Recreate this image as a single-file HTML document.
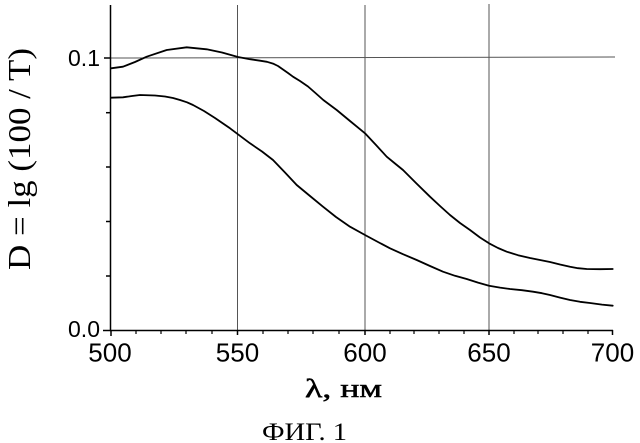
<!DOCTYPE html>
<html><head><meta charset="utf-8"><style>
html,body{margin:0;padding:0;background:#fff;}
svg{display:block;}
</style></head><body>
<svg width="640" height="443" viewBox="0 0 640 443" xmlns="http://www.w3.org/2000/svg">
<rect width="640" height="443" fill="#fff"/>
<!-- grid -->
<g stroke="#555" stroke-width="1" fill="none">
<line x1="237.5" y1="5" x2="237.5" y2="330"/>
<line x1="365" y1="5" x2="365" y2="330"/>
<line x1="489" y1="4" x2="489" y2="330"/>
<line x1="110" y1="58" x2="615" y2="57"/>
</g>
<!-- axes -->
<g stroke="#000" stroke-width="1.5" fill="none">
<line x1="110.5" y1="5" x2="110.5" y2="331"/>
<line x1="110" y1="330.5" x2="613" y2="330.5"/>
<line x1="104" y1="58" x2="110.5" y2="58"/>
<line x1="103" y1="330.5" x2="110.5" y2="330.5"/>
<line x1="106" y1="112.7" x2="110.5" y2="112.7"/>
<line x1="106" y1="167" x2="110.5" y2="167"/>
<line x1="106" y1="221.5" x2="110.5" y2="221.5"/>
<line x1="106" y1="276" x2="110.5" y2="276"/>
<line x1="111" y1="330" x2="111" y2="336"/>
<line x1="237.5" y1="330" x2="237.5" y2="335"/>
<line x1="365" y1="330" x2="365" y2="335"/>
<line x1="489" y1="330" x2="489" y2="335"/>
<line x1="612.5" y1="330" x2="612.5" y2="335"/>
</g>
<g stroke="#000" stroke-width="1.2">
<line x1="136" y1="330" x2="136" y2="334"/>
<line x1="161" y1="330" x2="161" y2="334"/>
<line x1="186" y1="330" x2="186" y2="334"/>
<line x1="212" y1="330" x2="212" y2="334"/>
<line x1="263" y1="330" x2="263" y2="334"/>
<line x1="288" y1="330" x2="288" y2="334"/>
<line x1="313" y1="330" x2="313" y2="334"/>
<line x1="339" y1="330" x2="339" y2="334"/>
<line x1="390" y1="330" x2="390" y2="334"/>
<line x1="414" y1="330" x2="414" y2="334"/>
<line x1="439" y1="330" x2="439" y2="334"/>
<line x1="464" y1="330" x2="464" y2="334"/>
<line x1="514" y1="330" x2="514" y2="334"/>
<line x1="538" y1="330" x2="538" y2="334"/>
<line x1="563" y1="330" x2="563" y2="334"/>
<line x1="588" y1="330" x2="588" y2="334"/>
</g>
<!-- curves -->
<g stroke="#000" stroke-width="1.8" fill="none" stroke-linejoin="round" stroke-linecap="round">
<polyline points="111,68.3 123,66.7 135,62 146.7,56.7 166.7,50 186.7,47.3 206.7,49.3 222,52.5 238,57 250,59.2 260,60.7 267,61.8 273,63.6 278,66 283,69.5 288,73 293,76.7 300,81 308,86.5 316,93.5 323.3,100 336.7,110 350,121 365,133.3 376,145 386.7,156.7 395,163.5 403,170 416,183 430,196.7 440,206 450,215 460,223 470,230 480,237.5 489,243.3 498,248 506.7,251.7 518,255.2 530,258 550,262 560,264.5 570,266.7 578,268.2 586.7,269 600,269.2 612.7,269"/>
<polyline points="111,97.7 123,97.3 132,96 140,95 155,95.5 165,96.5 173,98 180,100 187,102.3 193,105 204,111 215,118 230,128.3 250,143.3 262,151.5 273,160 285,172.5 296.7,185 310,196 323,206.7 336,217 350,226.7 365,235 378,242 390,248.3 403,254.2 416.7,260 430,266 443,271.7 455,275.8 466.7,279 478,282.6 489,285.7 500,287.6 510,289 522,290.2 533,291.7 542,293.2 550,295 560,297.6 570,300 580,301.8 590,303 602,304.6 612.7,305.7"/>
</g>
<!-- tick labels -->
<g font-family="Liberation Sans, Arial, sans-serif" font-size="23" fill="#000" text-anchor="end">
<text x="100" y="66">0.1</text>
<text x="100" y="337">0.0</text>
</g>
<g font-family="Liberation Sans, Arial, sans-serif" font-size="26" fill="#000" text-anchor="middle">
<text x="110" y="361.5">500</text>
<text x="237.5" y="361.5">550</text>
<text x="365" y="361.5">600</text>
<text x="489" y="361.5">650</text>
<text x="612.5" y="361.5">700</text>
</g>
<!-- axis titles -->
<text x="305" y="397" font-family="Liberation Serif, Times New Roman, serif" font-size="26" fill="#000" stroke="#000" stroke-width="0.5" textLength="77" lengthAdjust="spacingAndGlyphs">λ, нм</text>
<text x="262" y="440" font-family="Liberation Serif, Times New Roman, serif" font-size="25" fill="#000" textLength="85" lengthAdjust="spacingAndGlyphs">ФИГ. 1</text>
<text transform="translate(30,159) rotate(-90)" text-anchor="middle" font-family="Liberation Serif, Times New Roman, serif" font-size="32" fill="#000" textLength="222" lengthAdjust="spacingAndGlyphs">D = lg (100 / T)</text>
</svg>
</body></html>
